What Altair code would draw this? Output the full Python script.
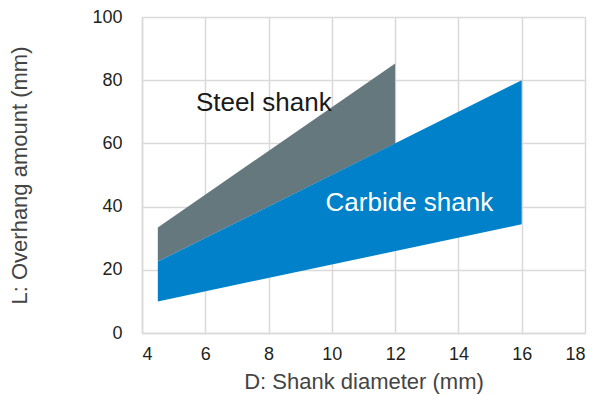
import altair as alt
import pandas as pd

# data
steel_x = [4.5, 12]
steel_low = [22.6, 60.0]
steel_high = [33.4, 85.3]
carb_x = [4.5, 16]
carb_low = [10.0, 34.4]
carb_high = [22.6, 80.0]
x_ticks = [4, 6, 8, 10, 12, 14, 16, 18]
y_ticks = [0, 20, 40, 60, 80, 100]
labels = ["Steel shank", "Carbide shank"]
label_x = [7.85, 12.45]
label_y = [72.8, 41.2]

FONT = "Liberation Sans"
steel_df = pd.DataFrame({"x": steel_x, "lo": steel_low, "hi": steel_high})
carb_df = pd.DataFrame({"x": carb_x, "lo": carb_low, "hi": carb_high})

xs = alt.Scale(domain=[4, 18], nice=False)
ys = alt.Scale(domain=[0, 100], nice=False)
xax = alt.Axis(values=x_ticks, title="D: Shank diameter (mm)", grid=True)
yax = alt.Axis(values=y_ticks, title="L: Overhang amount (mm)", grid=True)

steel = alt.Chart(steel_df).mark_area(color="#65787e", opacity=1).encode(
    x=alt.X("x:Q", scale=xs, axis=xax),
    y=alt.Y("lo:Q", scale=ys, axis=yax),
    y2="hi:Q",
)
carb = alt.Chart(carb_df).mark_area(color="#0081c9", opacity=1).encode(
    x=alt.X("x:Q", scale=xs),
    y=alt.Y("lo:Q", scale=ys),
    y2="hi:Q",
)

t1 = alt.Chart(pd.DataFrame({"t": [labels[0]], "x": [label_x[0]], "y": [label_y[0]]})).mark_text(
    font=FONT, fontSize=26, fontWeight=500, color="#1a1a1a"
).encode(x=alt.X("x:Q", scale=xs), y=alt.Y("y:Q", scale=ys), text="t:N")
t2 = alt.Chart(pd.DataFrame({"t": [labels[1]], "x": [label_x[1]], "y": [label_y[1]]})).mark_text(
    font=FONT, fontSize=26, color="white"
).encode(x=alt.X("x:Q", scale=xs), y=alt.Y("y:Q", scale=ys), text="t:N")

chart = alt.layer(steel, carb, t1, t2).properties(
    width=443, height=316,
    autosize=alt.AutoSizeParams(type="none"),
    padding={"left": 134, "top": 9, "right": 4, "bottom": 65},
).configure_view(stroke=None).configure_axis(
    gridColor="#d9d9d9", gridWidth=1.5, domainColor="#d9d9d9", domainWidth=1.5,
    ticks=False, labelFont=FONT, labelFontSize=18, labelColor="#231f20",
    titleFont=FONT, titleFontSize=22, titleFontWeight="normal", titleColor="#444444",
).configure_axisX(labelPadding=12, titlePadding=8).configure_axisY(labelPadding=20, titlePadding=60)

chart.save("out.html", embed_options={"renderer": "svg", "actions": False})
